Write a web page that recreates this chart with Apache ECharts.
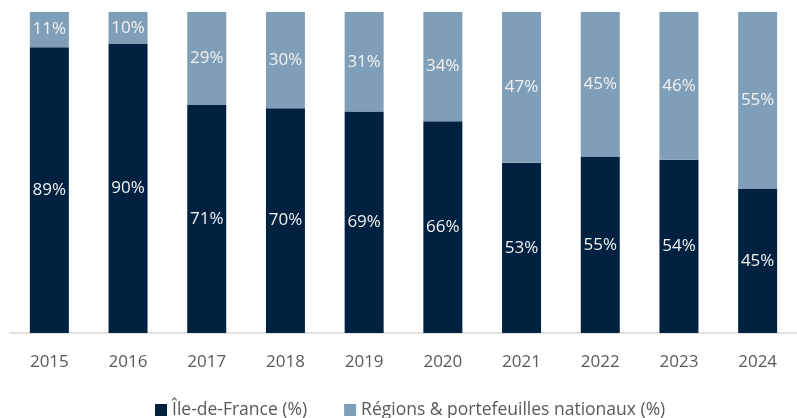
<!DOCTYPE html>
<html>
<head>
<meta charset="utf-8">
<script src="https://cdn.jsdelivr.net/npm/echarts@6/dist/echarts.min.js"></script>
<style>
  html, body { margin: 0; padding: 0; background: #fff; }
  #chart { width: 797px; height: 418px; }
</style>
</head>
<body>
<div id="chart"></div>
<script>
const years = ['2015', '2016', '2017', '2018', '2019', '2020', '2021', '2022', '2023', '2024']
const idf = [89, 90, 71, 70, 69, 66, 53, 55, 54, 45]
const regions = [11, 10, 29, 30, 31, 34, 47, 45, 46, 55]

const font = '"Open Sans", sans-serif'
const chart = echarts.init(document.getElementById('chart'))

const labelStyle = {
  show: true,
  position: 'inside',
  formatter: '{c}%',
  color: '#f2f2f2',
  fontSize: 17,
  fontFamily: font,
}

chart.setOption({
  animation: false,
  grid: { left: 10, top: 12, width: 791, bottom: 85 },
  legend: {
    top: 401,
    left: 155,
    padding: 0,
    itemWidth: 12,
    itemHeight: 12,
    itemGap: 37,
    icon: 'rect',
    textStyle: { color: '#595959', fontSize: 17.5, fontFamily: font },
    data: ['Île-de-France (%)', 'Régions & portefeuilles nationaux (%)'],
  },
  xAxis: {
    type: 'category',
    data: years,
    axisLine: { lineStyle: { color: '#d9d9d9', width: 1.5 } },
    axisTick: { show: false },
    axisLabel: { color: '#595959', fontSize: 17, fontFamily: font, margin: 21 },
  },
  yAxis: {
    type: 'value',
    min: 0,
    max: 100,
    show: false,
    splitLine: { show: false },
  },
  series: [
    {
      name: 'Île-de-France (%)',
      type: 'bar',
      stack: 'total',
      barWidth: 39,
      data: idf,
      itemStyle: { color: '#012140' },
      label: labelStyle,
    },
    {
      name: 'Régions & portefeuilles nationaux (%)',
      type: 'bar',
      stack: 'total',
      barWidth: 39,
      data: regions,
      itemStyle: { color: '#7f9fb9' },
      label: labelStyle,
    },
  ],
})
</script>
</body>
</html>
